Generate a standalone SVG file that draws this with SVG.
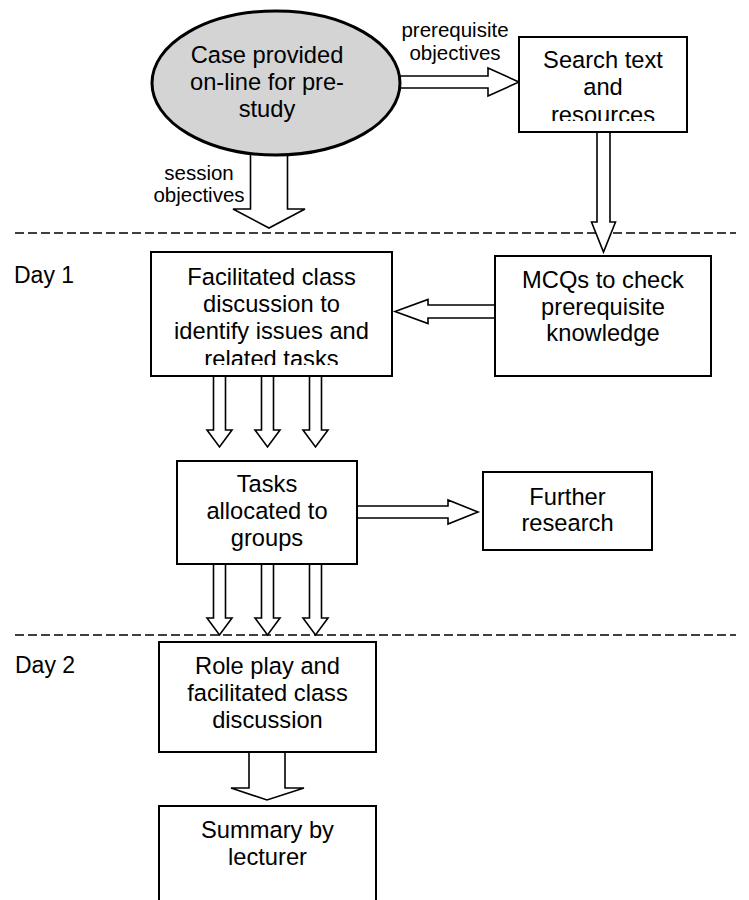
<svg xmlns="http://www.w3.org/2000/svg" width="749" height="900" viewBox="0 0 749 900">
  <style>
    text { font-family: "Liberation Sans", Arial, sans-serif; fill: #000; text-anchor: middle; }
    .t { font-size: 23.7px; }
    .lbl { font-size: 20.5px; }
    .day { font-size: 23px; text-anchor: start; }
    .box { fill: #fff; stroke: #000; stroke-width: 2; }
    .oval { fill: #d4d4d4; stroke: #000; stroke-width: 3; }
    .arrow { fill: #fff; stroke: #000; stroke-width: 1.6; stroke-linejoin: miter; }
    .sep { stroke: #000; stroke-width: 1.5; stroke-dasharray: 9 4; fill: none; }
  </style>
  <defs>
    <clipPath id="clip-search"><rect x="519" y="37" width="168" height="84"/></clipPath>
    <clipPath id="clip-fac"><rect x="151" y="252" width="241" height="113"/></clipPath>
  </defs>

  <!-- day separators -->
  <g id="separators">
    <line class="sep" x1="15" y1="233" x2="736" y2="233"/>
    <line class="sep" x1="15" y1="635" x2="736" y2="635"/>
    <text class="day" x="14" y="283">Day 1</text>
    <text class="day" x="15" y="673">Day 2</text>
  </g>

  <!-- block-arrow connectors -->
  <g id="connectors">
    <!-- case -> search (prerequisite objectives) -->
    <polygon class="arrow" points="390,76 488,76 488,68 519,82 488,96 488,88 390,88"/>
    <text class="lbl" x="455" y="37">prerequisite</text>
    <text class="lbl" x="455" y="60">objectives</text>
    <!-- case -> day 1 (session objectives) -->
    <polygon class="arrow" points="250.5,140 250.5,209 233,209 269,228 305,209 287.5,209 287.5,140"/>
    <text class="lbl" x="199" y="180">session</text>
    <text class="lbl" x="199" y="202">objectives</text>
    <!-- search -> MCQs -->
    <polygon class="arrow" points="597,132 597,222 591.5,222 603.5,252 615.5,222 610,222 610,132"/>
    <!-- MCQs -> facilitated discussion -->
    <polygon class="arrow" points="495,305 428,305 428,299.5 395,311.5 428,323.5 428,318 495,318"/>
    <!-- facilitated discussion -> tasks (three) -->
    <polygon class="arrow" points="213.5,376 213.5,430 207,430 219.5,447 232,430 225.5,430 225.5,376"/>
    <polygon class="arrow" points="261.5,376 261.5,430 255,430 267.5,447 280,430 273.5,430 273.5,376"/>
    <polygon class="arrow" points="309.5,376 309.5,430 303,430 315.5,447 328,430 321.5,430 321.5,376"/>
    <!-- tasks -> further research -->
    <polygon class="arrow" points="357,506 448,506 448,500 478,512 448,524 448,518 357,518"/>
    <!-- tasks -> role play (three) -->
    <polygon class="arrow" points="213.5,564 213.5,618 207,618 219.5,635 232,618 225.5,618 225.5,564"/>
    <polygon class="arrow" points="261.5,564 261.5,618 255,618 267.5,635 280,618 273.5,618 273.5,564"/>
    <polygon class="arrow" points="309.5,564 309.5,618 303,618 315.5,635 328,618 321.5,618 321.5,564"/>
    <!-- role play -> summary -->
    <polygon class="arrow" points="249,752 249,788 231,788 267,800 304,788 285,788 285,752"/>
  </g>

  <g id="case">
    <ellipse class="oval" cx="276" cy="83" rx="124" ry="72"/>
    <text class="t" x="267" y="63">Case provided</text>
    <text class="t" x="267" y="90">on-line for pre-</text>
    <text class="t" x="267" y="117">study</text>
  </g>

  <g id="search">
    <rect class="box" x="519" y="37" width="168" height="95"/>
    <g clip-path="url(#clip-search)">
      <text class="t" x="603" y="68">Search text</text>
      <text class="t" x="603" y="95">and</text>
      <text class="t" x="603" y="123">resources</text>
    </g>
  </g>

  <g id="mcqs">
    <rect class="box" x="495" y="256" width="216" height="120"/>
    <text class="t" x="603" y="288">MCQs to check</text>
    <text class="t" x="603" y="315">prerequisite</text>
    <text class="t" x="603" y="341">knowledge</text>
  </g>

  <g id="facilitated">
    <rect class="box" x="151" y="252" width="241" height="124"/>
    <g clip-path="url(#clip-fac)">
      <text class="t" x="271.5" y="285">Facilitated class</text>
      <text class="t" x="271.5" y="312">discussion to</text>
      <text class="t" x="271.5" y="339">identify issues and</text>
      <text class="t" x="271.5" y="367">related tasks</text>
    </g>
  </g>

  <g id="tasks">
    <rect class="box" x="177" y="461" width="180" height="103"/>
    <text class="t" x="267" y="492">Tasks</text>
    <text class="t" x="267" y="519">allocated to</text>
    <text class="t" x="267" y="546">groups</text>
  </g>

  <g id="further">
    <rect class="box" x="483" y="472" width="169" height="78"/>
    <text class="t" x="567.5" y="505">Further</text>
    <text class="t" x="567.5" y="531">research</text>
  </g>

  <g id="roleplay">
    <rect class="box" x="159" y="642" width="217" height="110"/>
    <text class="t" x="267.5" y="674">Role play and</text>
    <text class="t" x="267.5" y="701">facilitated class</text>
    <text class="t" x="267.5" y="728">discussion</text>
  </g>

  <g id="summary">
    <rect class="box" x="159" y="806" width="217" height="110"/>
    <text class="t" x="267.5" y="838">Summary by</text>
    <text class="t" x="267.5" y="865">lecturer</text>
  </g>
</svg>
